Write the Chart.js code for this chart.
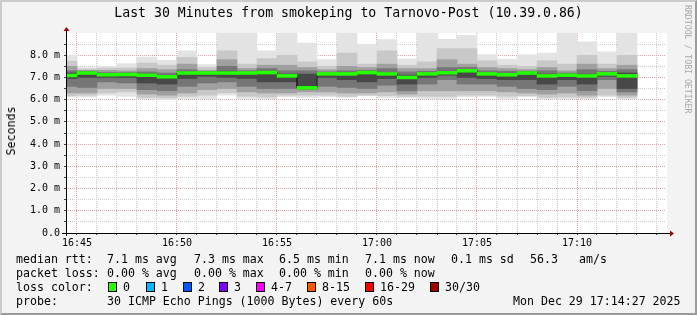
<!DOCTYPE html>
<html>
<head>
<meta charset="utf-8">
<title>Last 30 Minutes from smokeping to Tarnovo-Post</title>
<script src="https://cdn.jsdelivr.net/npm/chart.js@4.4.1/dist/chart.umd.min.js"></script>
<style>
  html, body { margin: 0; padding: 0; background: #f3f3f3; }
  #wrap { position: relative; width: 697px; height: 315px; background: #f3f3f3; overflow: hidden;
          font-family: "DejaVu Sans Mono", monospace; color: #000; }
  #chart { position: absolute; left: 0; top: 0; }
  #frame { position: absolute; left: 0; top: 0; width: 697px; height: 315px; box-sizing: border-box;
           border: 2px solid; border-color: #cbcbcb #9b9b9b #9b9b9b #cbcbcb; pointer-events: none; }
  #title { position: absolute; left: 0; top: 4px; width: 697px; text-align: center;
           font-size: 13.2px; line-height: 18px; white-space: pre; }
  #ylab { position: absolute; left: 11px; top: 131px; font-size: 11.6px; line-height: 14px;
          transform: translate(-50%, -50%) rotate(-90deg); white-space: pre; }
  #credit { position: absolute; left: 684px; top: 5px; font-size: 8.2px; line-height: 8px;
            color: #a8a8a8; writing-mode: vertical-rl; white-space: pre; }
  .t { position: absolute; font-size: 11.6px; line-height: 14px; white-space: pre; }
  .box { position: absolute; width: 9px; height: 10px; box-sizing: border-box; border: 1px solid #000; }
</style>
</head>
<body>
<div id="wrap">
  <canvas id="chart" width="697" height="315"></canvas>
  <div id="title">Last 30 Minutes from smokeping to Tarnovo-Post (10.39.0.86)</div>
  <div id="ylab">Seconds</div>
  <div id="credit">RRDTOOL / TOBI OETIKER</div>

  <div class="t" style="left:16px;top:252px">median rtt:</div>
  <div class="t" style="left:107px;top:252px">7.1 ms avg</div>
  <div class="t" style="left:194px;top:252px">7.3 ms max</div>
  <div class="t" style="left:279px;top:252px">6.5 ms min</div>
  <div class="t" style="left:365px;top:252px">7.1 ms now</div>
  <div class="t" style="left:451px;top:252px">0.1 ms sd</div>
  <div class="t" style="left:530px;top:252px">56.3</div>
  <div class="t" style="left:579px;top:252px">am/s</div>

  <div class="t" style="left:16px;top:266px">packet loss:</div>
  <div class="t" style="left:107px;top:266px">0.00 % avg</div>
  <div class="t" style="left:194px;top:266px">0.00 % max</div>
  <div class="t" style="left:279px;top:266px">0.00 % min</div>
  <div class="t" style="left:365px;top:266px">0.00 % now</div>

  <div class="t" style="left:16px;top:280px">loss color:</div>
  <div id="lossLegend"></div>

  <div class="t" style="left:16px;top:294px">probe:</div>
  <div class="t" style="left:107px;top:294px">30 ICMP Echo Pings (1000 Bytes) every 60s</div>
  <div class="t" style="left:513px;top:294px">Mon Dec 29 17:14:27 2025</div>

  <div id="frame"></div>
</div>

<script>
// end of each 60 s step, in minutes after 16:00
const stepEnd = [45, 46, 47, 48, 49, 50, 51, 52, 53, 54, 55, 56, 57, 58, 59,
                 60, 61, 62, 63, 64, 65, 66, 67, 68, 69, 70, 71, 72, 73];

// median rtt (ms)
const median = [7.09, 7.20, 7.12, 7.13, 7.10, 7.03, 7.20, 7.20, 7.20, 7.20, 7.22, 7.07, 6.53, 7.16, 7.16,
                7.22, 7.16, 7.00, 7.16, 7.21, 7.30, 7.16, 7.12, 7.20, 7.07, 7.10, 7.07, 7.16, 7.07];

// smoke: sorted ping bands (ms), outermost to innermost
const maxPing = [8.00, 7.45, 7.50, 7.62, 7.92, 7.77, 8.20, 7.58, 9.50, 9.50, 8.20, 9.50, 8.55, 7.80, 9.50,
                 8.48, 8.70, 7.83, 9.50, 8.72, 8.90, 8.03, 7.82, 8.02, 8.10, 9.50, 8.60, 8.15, 9.50];
const hi2 = [7.73, 7.38, 7.42, 7.43, 7.65, 7.55, 7.90, 7.45, 8.20, 7.60, 7.85, 8.00, 7.70, 7.50, 8.10,
             7.60, 8.20, 7.55, 7.70, 8.30, 8.30, 7.75, 7.55, 7.50, 7.75, 7.60, 8.00, 7.60, 8.00];
const hi3 = [7.50, 7.32, 7.32, 7.30, 7.40, 7.35, 7.60, 7.32, 7.80, 7.40, 7.55, 7.55, 7.45, 7.35, 7.50,
             7.45, 7.60, 7.40, 7.40, 7.80, 7.60, 7.45, 7.40, 7.35, 7.45, 7.30, 7.60, 7.40, 7.55];
const hi4 = [7.30, 7.28, 7.22, 7.22, 7.25, 7.20, 7.35, 7.26, 7.50, 7.30, 7.40, 7.30, 7.30, 7.25, 7.30,
             7.32, 7.40, 7.25, 7.28, 7.45, 7.45, 7.30, 7.28, 7.28, 7.30, 7.20, 7.35, 7.28, 7.35];
const hi5 = [7.20, 7.24, 7.16, 7.17, 7.16, 7.10, 7.25, 7.23, 7.28, 7.24, 7.28, 7.15, 7.15, 7.20, 7.20,
             7.26, 7.22, 7.10, 7.20, 7.28, 7.35, 7.22, 7.18, 7.24, 7.15, 7.15, 7.15, 7.20, 7.20];
const lo5 = [6.95, 7.00, 7.00, 7.00, 6.75, 6.70, 6.95, 7.05, 7.00, 6.95, 6.80, 6.80, 6.50, 7.00, 6.90,
             6.80, 6.95, 6.70, 7.00, 7.10, 7.00, 6.95, 6.90, 6.90, 6.70, 6.90, 6.70, 7.05, 6.50];
const lo4 = [6.60, 6.55, 6.80, 6.75, 6.45, 6.40, 6.60, 6.75, 6.80, 6.60, 6.50, 6.50, 6.45, 6.60, 6.55,
             6.50, 6.65, 6.40, 6.70, 6.90, 6.70, 6.70, 6.60, 6.50, 6.45, 6.60, 6.40, 6.90, 6.35];
const lo3 = [6.30, 6.30, 6.50, 6.50, 6.25, 6.20, 6.30, 6.45, 6.50, 6.35, 6.30, 6.30, 6.35, 6.35, 6.30,
             6.30, 6.35, 6.25, 6.40, 6.40, 6.40, 6.40, 6.35, 6.30, 6.25, 6.30, 6.20, 6.50, 6.20];
const lo2 = [6.18, 6.20, 6.30, 6.35, 6.10, 6.08, 6.15, 6.20, 6.30, 6.15, 6.12, 6.20, 6.20, 6.20, 6.15,
             6.20, 6.18, 6.15, 6.15, 6.15, 6.20, 6.20, 6.15, 6.18, 6.10, 6.12, 6.10, 6.20, 6.10];
const minPing = [6.12, 6.12, 6.20, 6.15, 6.03, 6.00, 6.05, 6.05, 6.20, 6.05, 6.03, 6.13, 6.10, 6.13, 6.10,
                 6.17, 6.09, 6.09, 6.03, 6.03, 6.13, 6.15, 6.03, 6.12, 6.03, 6.03, 6.05, 6.13, 6.03];

// axis ticks
const xTickMinutes = [45, 46, 47, 48, 49, 50, 51, 52, 53, 54, 55, 56, 57, 58, 59,
                      60, 61, 62, 63, 64, 65, 66, 67, 68, 69, 70, 71, 72, 73, 74];
const xMajorMinutes = [45, 50, 55, 60, 65, 70];
const xMajorLabels = ['16:45', '16:50', '16:55', '17:00', '17:05', '17:10'];
const yTickValues = [0, 0.5, 1, 1.5, 2, 2.5, 3, 3.5, 4, 4.5, 5, 5.5, 6, 6.5, 7, 7.5, 8, 8.5];
const yMajorValues = [0, 1, 2, 3, 4, 5, 6, 7, 8];
const yMajorLabels = ['0.0', '1.0 m', '2.0 m', '3.0 m', '4.0 m', '5.0 m', '6.0 m', '7.0 m', '8.0 m'];

// loss colour legend
const lossLabels = ['0', '1', '2', '3', '4-7', '8-15', '16-29', '30/30'];
const lossColors = ['#26ff00', '#00b8ff', '#0059ff', '#7e00ff', '#ff00ff', '#ff5500', '#ff0000', '#a10000'];
const lossBoxX = [108, 146, 183, 219, 256, 307, 365, 430];

const legendEl = document.getElementById('lossLegend');
lossLabels.forEach(function (lab, i) {
    const b = document.createElement('div');
    b.className = 'box';
    b.style.left = lossBoxX[i] + 'px';
    b.style.top = '282px';
    b.style.background = lossColors[i];
    legendEl.appendChild(b);
    const t = document.createElement('div');
    t.className = 't';
    t.style.left = (lossBoxX[i] + 15) + 'px';
    t.style.top = '280px';
    t.textContent = lab;
    legendEl.appendChild(t);
});

const MEDIAN_HALF = 0.065; // half height of the loss-coloured median band

const smokeLayers = [
    { lo: minPing, hi: maxPing, color: '#e3e3e3' },
    { lo: lo2, hi: hi2, color: '#c8c8c8' },
    { lo: lo3, hi: hi3, color: '#a0a0a0' },
    { lo: lo4, hi: hi4, color: '#767676' },
    { lo: lo5, hi: hi5, color: '#484848' }
];

const datasets = smokeLayers.map(function (layer, i) {
    return {
        type: 'bar',
        data: stepEnd.map((t, k) => ({ x: t - 0.5, y: [layer.lo[k], layer.hi[k]] })),
        backgroundColor: layer.color,
        borderWidth: 0,
        grouped: false,
        barPercentage: 1,
        categoryPercentage: 1,
        clip: 0,
        order: 10 - i
    };
});

// black median step line
datasets.push({
    type: 'line',
    data: stepEnd.flatMap((t, k) => [{ x: t - 1, y: median[k] }, { x: t, y: median[k] }]),
    borderColor: '#202020',
    borderWidth: 1,
    pointRadius: 0,
    fill: false,
    tension: 0,
    clip: 0,
    order: 2
});

// median coloured by loss (all 0 loss -> green)
datasets.push({
    type: 'bar',
    data: stepEnd.map((t, k) => ({ x: t - 0.5, y: [median[k] - MEDIAN_HALF, median[k] + MEDIAN_HALF] })),
    backgroundColor: lossColors[0],
    borderWidth: 0,
    grouped: false,
    barPercentage: 1,
    categoryPercentage: 1,
    clip: 0,
    order: 1
});

const rrdFrame = {
    id: 'rrdFrame',
    beforeDraw: function (chart) {
        const a = chart.chartArea;
        const ctx = chart.ctx;
        ctx.save();
        ctx.fillStyle = '#ffffff';
        ctx.fillRect(a.left, a.top, a.right - a.left + 1, a.bottom - a.top);
        ctx.restore();
    },
    afterDraw: function (chart) {
        const a = chart.chartArea;
        const ctx = chart.ctx;
        ctx.save();
        ctx.strokeStyle = '#000000';
        ctx.lineWidth = 1;
        ctx.beginPath();
        ctx.moveTo(a.left - 4, a.bottom + 0.5);
        ctx.lineTo(a.right + 4, a.bottom + 0.5);
        ctx.moveTo(a.left + 0.5, a.bottom + 3);
        ctx.lineTo(a.left + 0.5, a.top - 2);
        ctx.stroke();
        ctx.fillStyle = '#a00000';
        ctx.beginPath();
        ctx.moveTo(a.right + 4, a.bottom - 2.5);
        ctx.lineTo(a.right + 8, a.bottom + 0.5);
        ctx.lineTo(a.right + 4, a.bottom + 3.5);
        ctx.closePath();
        ctx.fill();
        ctx.beginPath();
        ctx.moveTo(a.left - 2.5, a.top - 2);
        ctx.lineTo(a.left + 0.5, a.top - 6);
        ctx.lineTo(a.left + 3.5, a.top - 2);
        ctx.closePath();
        ctx.fill();
        ctx.restore();
    }
};

const tickFont = { family: 'DejaVu Sans Mono', size: 10 };

new Chart(document.getElementById('chart'), {
    type: 'bar',
    data: { datasets: datasets },
    options: {
        responsive: false,
        devicePixelRatio: 1,
        animation: false,
        events: [],
        layout: { padding: { top: 33, right: 31, bottom: 0, left: 0 } },
        plugins: {
            legend: { display: false },
            tooltip: { enabled: false }
        },
        scales: {
            x: {
                type: 'linear',
                min: 44.45,
                max: 74.45,
                offset: false,
                z: 1,
                afterFit: function (scale) { scale.height = 82; },
                afterBuildTicks: function (scale) {
                    scale.ticks = xTickMinutes.map(v => ({ value: v }));
                },
                grid: {
                    offset: false,
                    color: function (c) {
                        return xMajorMinutes.includes(c.tick && c.tick.value) ? '#dca2a2' : '#cbcbcb';
                    },
                    lineWidth: 1,
                    drawTicks: true,
                    tickLength: 2,
                    tickColor: '#404040'
                },
                border: { display: false, dash: [1, 1] },
                ticks: {
                    autoSkip: false,
                    maxRotation: 0,
                    padding: 2,
                    color: '#000',
                    font: tickFont,
                    callback: function (v) {
                        const i = xMajorMinutes.indexOf(Math.round(v));
                        return i >= 0 ? xMajorLabels[i] : '';
                    }
                }
            },
            y: {
                type: 'linear',
                min: 0,
                max: 9,
                z: 1,
                afterFit: function (scale) { scale.width = 66; },
                afterBuildTicks: function (scale) {
                    scale.ticks = yTickValues.map(v => ({ value: v }));
                },
                grid: {
                    color: function (c) {
                        return yMajorValues.includes(c.tick && c.tick.value) ? '#dca2a2' : '#cbcbcb';
                    },
                    lineWidth: 1,
                    drawTicks: true,
                    tickLength: 2,
                    tickColor: '#404040'
                },
                border: { display: false, dash: [1, 1] },
                ticks: {
                    autoSkip: false,
                    padding: 4,
                    color: '#000',
                    font: tickFont,
                    callback: function (v) {
                        const i = yMajorValues.indexOf(v);
                        return i >= 0 ? yMajorLabels[i] : '';
                    }
                }
            }
        }
    },
    plugins: [rrdFrame]
});
</script>
</body>
</html>
